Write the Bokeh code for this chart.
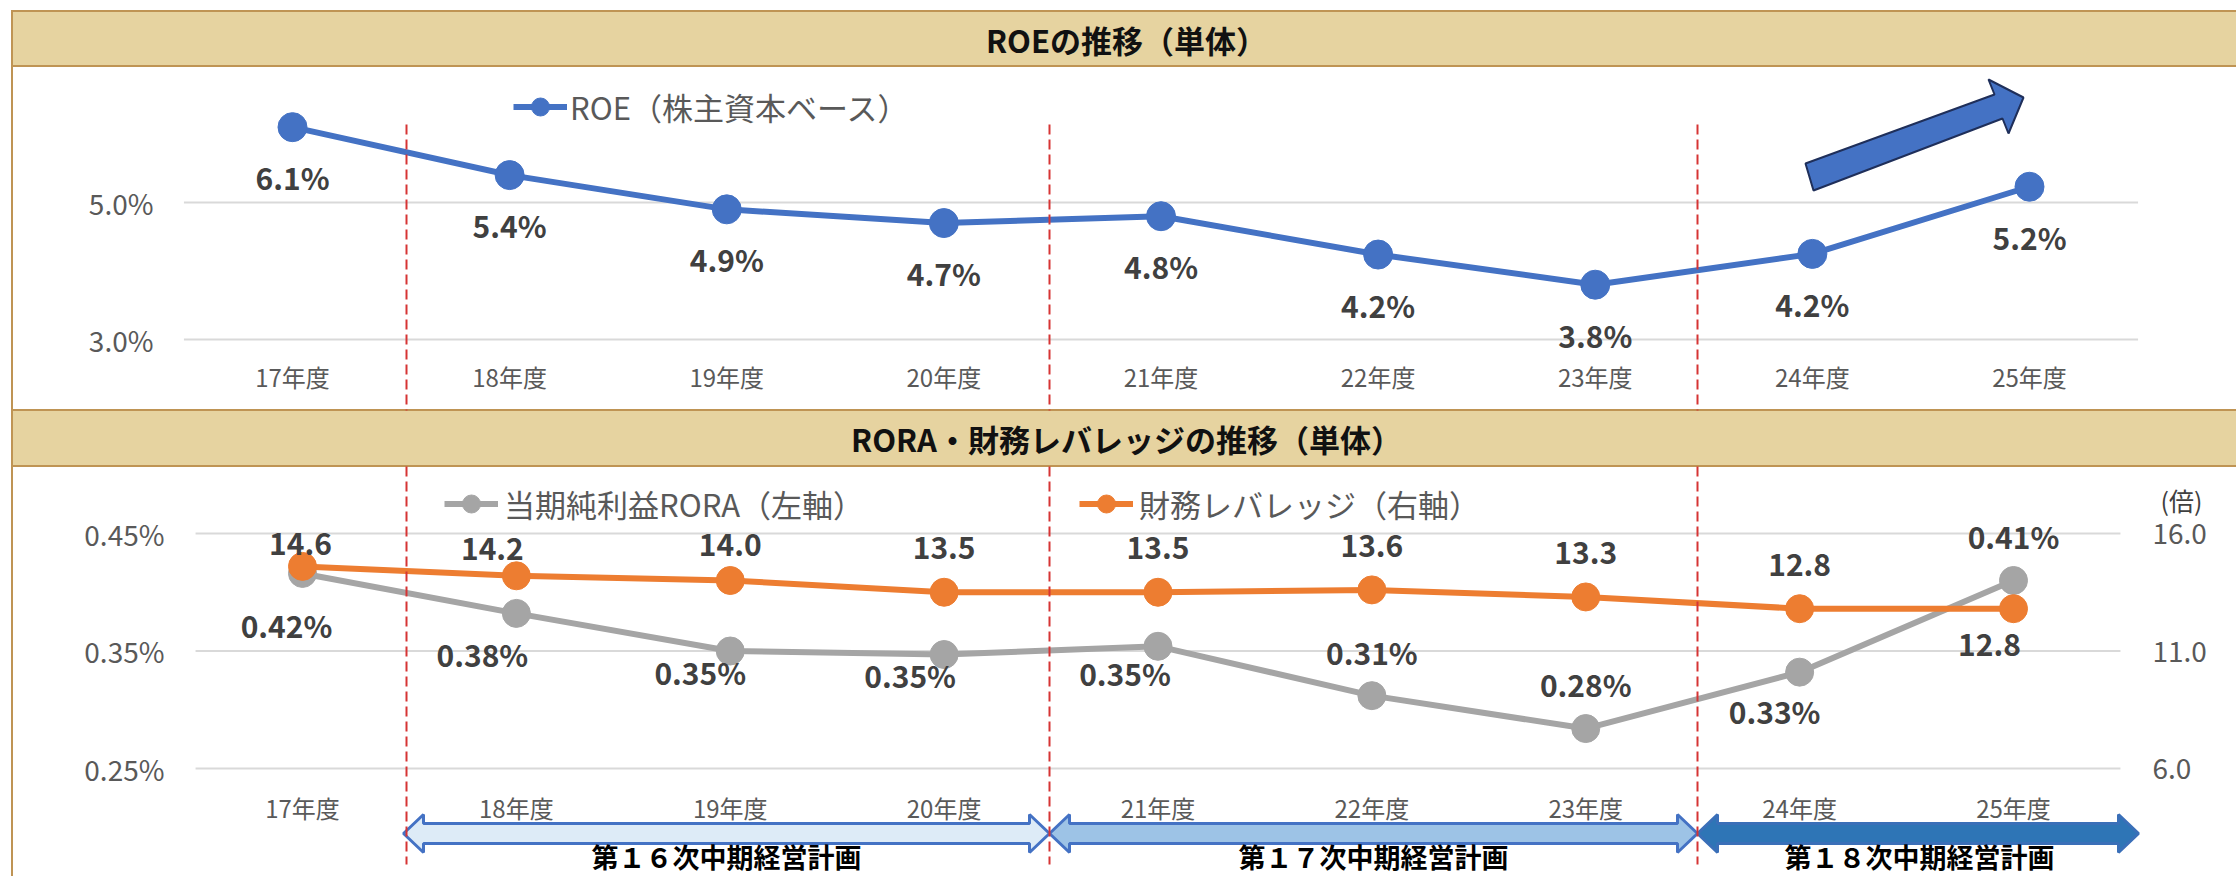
from bokeh.plotting import figure
from bokeh.models import (Range1d, LinearAxis, FixedTicker, Legend, LegendItem,
                          ColumnDataSource)
from bokeh.core.properties import value
from bokeh.embed import file_html
from bokeh.resources import INLINE

# ---------------- data ----------------
categories = ["17年度", "18年度", "19年度", "20年度", "21年度",
              "22年度", "23年度", "24年度", "25年度"]
roe = [6.1, 5.4, 4.9, 4.7, 4.8, 4.24, 3.8, 4.25, 5.23]            # %
rora = [0.416, 0.382, 0.350, 0.347, 0.354, 0.312, 0.284, 0.332, 0.410]  # %
leverage = [14.6, 14.2, 14.0, 13.5, 13.5, 13.6, 13.3, 12.8, 12.8]   # 倍
roe_ticks = [3.0, 5.0]
rora_ticks = [0.25, 0.35, 0.45]
lev_ticks = [6.0, 11.0, 16.0]
titles = ["ROEの推移（単体）", "RORA・財務レバレッジの推移（単体）"]
legend_roe = "ROE（株主資本ベース）"
legend_rora = "当期純利益RORA（左軸）"
legend_lev = "財務レバレッジ（右軸）"
unit_right = "(倍)"
plans = ["第１６次中期経営計画", "第１７次中期経営計画", "第１８次中期経営計画"]

# ---------------- label placement (screen px offsets) ----------------
roe_dx = [0] * 9
roe_dy = [50] * 9
rora_dx = [-16, -34, -30, -34, -33, 0, 0, -25, 0]
rora_dy = [52, 41, 21, 20, 27, -44, -45, 39, -45]
lev_dx = [-2, -24, 0, 0, 0, 0, 0, 0, -24]
lev_dy = [-22, -27, -36, -44, -44, -44, -44, -44, 36]

# ---------------- canvas / layout ----------------
W, H = 2236, 876
JPF = "Noto Sans CJK JP"
JP = value(JPF)

BLUE = "#4472C4"
GRAY = "#A5A5A5"
ORANGE = "#ED7D31"
TAN_FILL = "#E6D3A0"
TAN_LINE = "#BF9454"
GRID = "#D9D9D9"
RED = "#D63434"
TICK_C = "#595959"


def y_range_from(v_a, px_a, v_b, px_b):
    scale = (px_b - px_a) / (v_a - v_b)
    return Range1d(start=v_a - (H - px_a) / scale, end=v_a + px_a / scale)


def x_range_from(px_first, px_last, n):
    scale = (px_last - px_first) / (n - 1)
    start = -px_first / scale
    return Range1d(start=start, end=start + W / scale)


n = len(categories)
idx = list(range(n))

p = figure(width=W, height=H, x_range=Range1d(0, W), y_range=Range1d(H, 0),
           x_axis_type=None, y_axis_type=None, toolbar_location=None,
           output_backend="svg", min_border=0, outline_line_color=None,
           background_fill_color="white", border_fill_color="white")

p.extra_x_ranges = {"xt": x_range_from(292, 2029, n),
                    "xb": x_range_from(302, 2013, n)}
p.extra_y_ranges = {"roe": y_range_from(5.0, 202, 3.0, 339),
                    "rora": y_range_from(0.45, 533, 0.25, 768),
                    "lev": y_range_from(16.0, 533, 6.0, 768)}

# ---------------- frame decorations ----------------
p.quad(left=[11.5, 11.5], right=[W, W], top=[10.5, 409.5], bottom=[65.5, 465.5],
       fill_color=TAN_FILL, line_color=None)
p.segment(x0=[10.5] * 4, x1=[W] * 4, y0=[10.5, 65.5, 409.5, 465.5],
          y1=[10.5, 65.5, 409.5, 465.5], line_color=TAN_LINE, line_width=2)
p.segment(x0=[11.5], x1=[11.5], y0=[9.5], y1=[H], line_color=TAN_LINE, line_width=2)
p.text(x=[1126, 1126], y=[39, 438], text=titles, text_font=JP,
       text_font_size="31px", text_font_style="bold", text_align="center",
       text_baseline="middle", text_color="#111111")

# ---------------- gridlines ----------------
p.segment(x0=[-0.5] * len(roe_ticks), x1=[n - 0.5] * len(roe_ticks),
          y0=roe_ticks, y1=roe_ticks, x_range_name="xt", y_range_name="roe",
          line_color=GRID, line_width=2)
p.segment(x0=[-0.5] * len(rora_ticks), x1=[n - 0.5] * len(rora_ticks),
          y0=rora_ticks, y1=rora_ticks, x_range_name="xb", y_range_name="rora",
          line_color=GRID, line_width=2)

# ---------------- y tick labels (through the panels' scales) ----------------
p.text(x=[153] * len(roe_ticks), y=roe_ticks, text=[f"{t:.1f}%" for t in roe_ticks],
       y_range_name="roe", text_font=JP, text_font_size="28px", text_align="right",
       text_baseline="middle", text_color=TICK_C)
p.text(x=[164] * len(rora_ticks), y=rora_ticks, text=[f"{t:.2f}%" for t in rora_ticks],
       y_range_name="rora", text_font=JP, text_font_size="28px", text_align="right",
       text_baseline="middle", text_color=TICK_C)
p.text(x=[2152] * len(lev_ticks), y=lev_ticks, text=[f"{t:.1f}" for t in lev_ticks],
       y_range_name="lev", text_font=JP, text_font_size="28px", text_align="left",
       text_baseline="middle", text_color=TICK_C)
p.text(x=[2181], y=[499], text=[unit_right], text_font=JP, text_font_size="25px",
       text_align="center", text_baseline="middle", text_color="#404040")

# ---------------- arrows ----------------
p.patch(x=[1813, 1805, 1994, 1988, 2023, 2008, 2002],
        y=[190, 163, 94, 79, 97, 133, 118],
        fill_color=BLUE, line_color="#1F2F5A", line_width=2)


def double_arrow(xl, xr, yc, hl=20, hh=19, sh=10):
    xs = [xl, xl + hl, xl + hl, xr - hl, xr - hl, xr, xr - hl, xr - hl, xl + hl, xl + hl]
    ys = [yc, yc - hh, yc - sh, yc - sh, yc - hh, yc, yc + hh, yc + sh, yc + sh, yc + hh]
    return xs, ys


arrow_specs = [(403, 1049, "#DDEBF7", "#4472C4"),
               (1049, 1697, "#9DC3E6", "#4472C4"),
               (1697, 2138, "#2E75B6", "#3A6FB8")]
for xl, xr, fc, lc in arrow_specs:
    xs, ys = double_arrow(xl, xr, 833)
    p.patch(x=xs, y=ys, fill_color=fc, line_color=lc, line_width=3)
p.text(x=[726, 1373, 1919], y=[856] * 3, text=plans, text_font=JP,
       text_font_size="27px", text_font_style="bold", text_align="center",
       text_baseline="middle", text_color="#000000")

# ---------------- data: ROE ----------------
src_roe = ColumnDataSource(dict(x=idx, y=roe, label=[f"{v:.1f}%" for v in roe],
                                dx=roe_dx, dy=roe_dy))
r_roe_l = p.line("x", "y", source=src_roe, x_range_name="xt", y_range_name="roe",
                 line_color=BLUE, line_width=6)
r_roe_s = p.scatter("x", "y", source=src_roe, x_range_name="xt", y_range_name="roe",
                    size=29, fill_color=BLUE, line_color=BLUE)

# ---------------- data: RORA & leverage ----------------
src_rora = ColumnDataSource(dict(x=idx, y=rora, label=[f"{v:.2f}%" for v in rora],
                                 dx=rora_dx, dy=rora_dy))
src_lev = ColumnDataSource(dict(x=idx, y=leverage, label=[f"{v:.1f}" for v in leverage],
                                dx=lev_dx, dy=lev_dy))
r_rora_l = p.line("x", "y", source=src_rora, x_range_name="xb", y_range_name="rora",
                  line_color=GRAY, line_width=6)
r_rora_s = p.scatter("x", "y", source=src_rora, x_range_name="xb", y_range_name="rora",
                     size=28, fill_color=GRAY, line_color=GRAY)
r_lev_l = p.line("x", "y", source=src_lev, x_range_name="xb", y_range_name="lev",
                 line_color=ORANGE, line_width=6)
r_lev_s = p.scatter("x", "y", source=src_lev, x_range_name="xb", y_range_name="lev",
                    size=28, fill_color=ORANGE, line_color=ORANGE)

# ---------------- period separators ----------------
p.segment(x0=[406, 1049, 1697] * 2, x1=[406, 1049, 1697] * 2,
          y0=[124] * 3 + [466] * 3, y1=[410] * 3 + [864] * 3,
          line_color=RED, line_width=2, line_dash="10 5")

# ---------------- data labels ----------------
for src, xr, yr in [(src_roe, "xt", "roe"), (src_rora, "xb", "rora"), (src_lev, "xb", "lev")]:
    p.text("x", "y", text="label", x_offset="dx", y_offset="dy", source=src,
           x_range_name=xr, y_range_name=yr, text_font=JP, text_font_size="30px",
           text_font_style="bold", text_align="center", text_baseline="middle",
           text_color="#404040")


# ---------------- legends ----------------
def make_legend(label, renderers, loc, standoff):
    return Legend(items=[LegendItem(label=value(label), renderers=renderers)],
                  location=loc, orientation="horizontal", glyph_width=54,
                  glyph_height=45, label_standoff=standoff, padding=0, margin=0,
                  spacing=0, border_line_color=None, background_fill_alpha=0,
                  label_text_font=JPF, label_text_font_size="31px",
                  label_text_color=TICK_C)


p.add_layout(make_legend(legend_roe, [r_roe_l, r_roe_s], (513, 747.5), 3))
p.add_layout(make_legend(legend_rora, [r_rora_l, r_rora_s], (444, 350.5), 6))
p.add_layout(make_legend(legend_lev, [r_lev_l, r_lev_s], (1079, 350.5), 6))


# ---------------- category axes ----------------
def style_axis(ax, size):
    ax.axis_line_color = None
    ax.major_tick_line_color = None
    ax.minor_tick_line_color = None
    ax.major_tick_out = 0
    ax.major_tick_in = 0
    ax.minor_tick_out = 0
    ax.major_label_standoff = 0
    ax.major_label_text_font = JPF
    ax.major_label_text_font_size = size
    ax.major_label_text_color = TICK_C
    return ax


overrides = {i: c for i, c in enumerate(categories)}
ax_xt = style_axis(LinearAxis(x_range_name="xt", ticker=FixedTicker(ticks=idx),
                              major_label_overrides=overrides, fixed_location=358), "24px")
p.add_layout(ax_xt, "below")
ax_xb = style_axis(LinearAxis(x_range_name="xb", ticker=FixedTicker(ticks=idx),
                              major_label_overrides=overrides, fixed_location=789), "24px")
p.add_layout(ax_xb, "below")

open("out.html", "w").write(file_html(p, INLINE))
